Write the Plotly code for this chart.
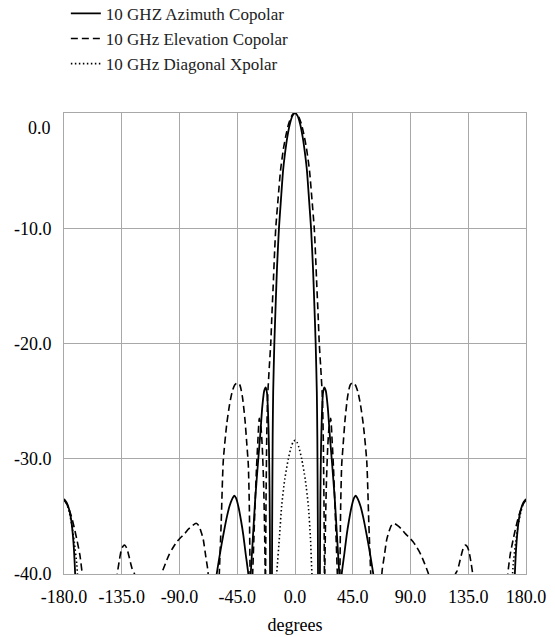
import plotly.graph_objects as go

# ---------------- data ----------------
series_names = ["10 GHZ Azimuth Copolar", "10 GHz Elevation Copolar", "10 GHz Diagonal Xpolar"]

az_deg = [-180, -178, -176, -174.4, -172.6, -171.3, -170.5, None,
          -63, -61, -59, -57, -55, -53, -51, -49, -47.3, -46, -44, -42, -40.3, -38.5, -36.4, -35.5, None,
          -34.5, -33, -31, -28.6, -27, -25.5, -24, -22.8, -21.8, -21, -20.3, -19.8, -19.5, -19.3, None,
          -18.1, -17.8, -17.4, -17, -16.1, -15, -14, -12.5, -11, -9.3, -8, -6, -4, -2, 0,
          2, 4, 6, 8, 9.3, 11, 12.5, 14, 15, 16.1, 17, 17.4, 17.8, 18.1, None,
          19.3, 19.5, 19.8, 20.3, 21, 21.8, 22.8, 24, 25.5, 27, 28.6, 31, 33, 34.5, None,
          35.5, 36.4, 38.5, 40.3, 42, 44, 46, 47.3, 49, 51, 53, 55, 57, 59, 61, 63, None,
          170.5, 171.3, 172.6, 174.4, 176, 178, 180]
az_db = [-33.5, -33.8, -34.4, -35.3, -37.3, -40.0, -43.0, None,
         -41.8, -40.0, -38.6, -37.3, -36.1, -35.0, -34.1, -33.5, -33.2, -33.4, -34.2, -35.4, -36.6, -38.2, -40.0, -41.5, None,
         -40.0, -37.2, -33.5, -30.0, -27.8, -25.5, -24.1, -23.8, -24.3, -26.0, -29.0, -33.0, -38.0, -44.0, None,
         -45.0, -36.0, -28.0, -24.2, -20.0, -16.4, -13.4, -10.0, -7.6, -5.0, -3.7, -2.1, -0.95, -0.25, 0.0,
         -0.25, -0.95, -2.1, -3.7, -5.0, -7.6, -10.0, -13.4, -16.4, -20.0, -24.2, -28.0, -36.0, -45.0, None,
         -44.0, -38.0, -33.0, -29.0, -26.0, -24.3, -23.8, -24.1, -25.5, -27.8, -30.0, -33.5, -37.2, -40.0, None,
         -41.5, -40.0, -38.2, -36.6, -35.4, -34.2, -33.4, -33.2, -33.5, -34.1, -35.0, -36.1, -37.3, -38.6, -40.0, -41.8, None,
         -43.0, -40.0, -37.3, -35.3, -34.4, -33.8, -33.5]

el_deg = [-180, -178, -176, -174, -172, -170, -167.7, -165.8, -164.8, None,
          -140, -138.5, -137, -135.5, -134, -132.5, -131, -129.5, -128, -126.5, -125, -124, None,
          -105, -104, -101, -98, -95, -92, -89.6, -86, -83, -80, -77, -75, -73, -71.5, -69.5, -68, -67, None,
          -60, -59, -57.5, -55.9, -53.2, -51, -49, -47, -45, -43, -41, -39, -37.5, -36.4, -35.6, -35, -34.6, None,
          -34, -33, -32, -31, -30, -29, -27.8, -26.5, -25.5, -24.5, -23.8, -23.2, -22.8, None,
          -23.2, -22.6, -22, -21.3, -20, -18.9, -18, -17, -16, -15, -13, -11.3, -9, -7, -5, -3, -1.5, 0,
          1.5, 3, 5, 7, 9, 11.3, 13, 15, 16, 17, 18, 18.9, 20, 21.3, 22, 22.6, 23.2, None,
          22.8, 23.2, 23.8, 24.5, 25.5, 26.5, 27.8, 29, 30, 31, 32, 33, 34, None,
          34.6, 35, 35.6, 36.4, 37.5, 39, 41, 43, 45, 47, 49, 51, 53.2, 55.9, 57.5, 59, 60, None,
          67, 68, 69.5, 71.5, 73, 75, 77, 80, 83, 86, 89.6, 92, 95, 98, 101, 104, 105, None,
          124, 125, 126.5, 128, 129.5, 131, 132.5, 134, 135.5, 137, 138.5, 140, None,
          164.8, 165.8, 167.7, 170, 172, 174, 176, 178, 180]
el_db = [-33.6, -33.9, -34.4, -35.1, -36.0, -37.0, -38.3, -40.0, -41.5, None,
         -41.5, -40.0, -38.9, -38.0, -37.6, -37.5, -37.8, -38.4, -39.1, -39.7, -40.0, -41.2, None,
         -40.6, -40.0, -39.1, -38.3, -37.7, -37.2, -36.9, -36.5, -36.1, -35.8, -35.6, -35.8, -36.4, -37.0, -38.5, -39.6, -41.0, None,
         -43.0, -40.0, -35.5, -30.2, -27.0, -25.3, -24.2, -23.6, -23.4, -23.6, -24.6, -26.6, -28.8, -30.5, -34.0, -40.0, -44.0, None,
         -43.0, -40.0, -36.8, -33.6, -30.8, -28.6, -26.5, -27.3, -29.0, -32.0, -35.5, -40.0, -44.0, None,
         -46.0, -34.0, -28.0, -24.6, -22.0, -20.0, -17.5, -15.0, -12.3, -10.0, -7.2, -5.0, -3.1, -1.9, -0.95, -0.35, -0.08, 0.0,
         -0.08, -0.35, -0.95, -1.9, -3.1, -5.0, -7.2, -10.0, -12.3, -15.0, -17.5, -20.0, -22.0, -24.6, -28.0, -34.0, -46.0, None,
         -44.0, -40.0, -35.5, -32.0, -29.0, -27.3, -26.5, -28.6, -30.8, -33.6, -36.8, -40.0, -43.0, None,
         -44.0, -40.0, -34.0, -30.5, -28.8, -26.6, -24.6, -23.6, -23.4, -23.6, -24.2, -25.3, -27.0, -30.2, -35.5, -40.0, -43.0, None,
         -41.0, -39.6, -38.5, -37.0, -36.4, -35.8, -35.6, -35.8, -36.1, -36.5, -36.9, -37.2, -37.7, -38.3, -39.1, -40.0, -40.6, None,
         -41.2, -40.0, -39.7, -39.1, -38.4, -37.8, -37.5, -37.6, -38.0, -38.9, -40.0, -41.5, None,
         -41.5, -40.0, -38.3, -37.0, -36.0, -35.1, -34.4, -33.9, -33.6]

xp_deg = [-180, -178, -176, -174, -172, -170, -169, None,
          -15.5, -14.3, -12, -10.4, -8, -5.2, -3, -1.5, 0, 1.5, 3, 5.2, 8, 10.4, 12, 13.2, 14.2, None,
          169, 170, 172, 174, 176, 178, 180]
xp_db = [-33.5, -33.9, -34.6, -35.7, -37.2, -39.2, -41.0, None,
         -41.5, -40.0, -36.6, -34.1, -31.8, -30.0, -29.0, -28.55, -28.4, -28.55, -29.0, -30.0, -31.8, -34.1, -36.8, -40.0, -42.0, None,
         -41.0, -39.2, -37.2, -35.7, -34.6, -33.9, -33.5]

x_tickvals = [-180, -135, -90, -45, 0, 45, 90, 135, 180]
x_ticktext = ["-180.0", "-135.0", "-90.0", "-45.0", "0.0", "45.0", "90.0", "135.0", "180.0"]
y_tickvals = [-40, -30, -20, -10]
y_ticktext = ["-40.0", "-30.0", "-20.0", "-10.0"]
y_top_label = "0.0"
x_title = "degrees"

# ---------------- figure ----------------
FONT = "Liberation Serif, Times New Roman, serif"
GRID = "#a8a8a8"

fig = go.Figure()
styles = [dict(dash="solid", width=1.8),
          dict(dash="7px,4px", width=1.6),
          dict(dash="1.5px,2.5px", width=1.6)]
for name, xs, ys, st in zip(series_names, [az_deg, el_deg, xp_deg], [az_db, el_db, xp_db], styles):
    fig.add_trace(go.Scatter(x=xs, y=ys, name=name, mode="lines", connectgaps=False,
                             line=dict(color="black", shape="spline", smoothing=0.6, **st)))

fig.update_layout(
    width=555, height=637,
    margin=dict(l=64, r=29, t=113, b=63, autoexpand=False),
    paper_bgcolor="white", plot_bgcolor="white",
    font=dict(family=FONT, size=18, color="black"),
    showlegend=True,
    legend=dict(x=0.004, y=1.254, xanchor="left", yanchor="top",
                font=dict(family=FONT, size=17, color="#222"),
                bgcolor="rgba(0,0,0,0)", traceorder="normal"),
    xaxis=dict(range=[-180, 180], tickvals=x_tickvals, ticktext=x_ticktext,
               showgrid=True, gridcolor=GRID, gridwidth=1, zeroline=False,
               showline=True, linecolor=GRID, linewidth=1, mirror=True,
               ticks="outside", ticklen=6, tickcolor="rgba(0,0,0,0)",
               tickfont=dict(family=FONT, size=18, color="black"),
               title=dict(text=x_title, font=dict(family=FONT, size=18, color="black"), standoff=12)),
    yaxis=dict(range=[-40, 0], tickvals=y_tickvals, ticktext=y_ticktext,
               showgrid=True, gridcolor=GRID, gridwidth=1, zeroline=False,
               showline=True, linecolor=GRID, linewidth=1, mirror=True,
               ticks="outside", ticklen=8, tickcolor="rgba(0,0,0,0)",
               tickfont=dict(family=FONT, size=18, color="black")),
)
fig.add_annotation(x=0, xref="paper", y=0, yref="y", text=y_top_label, showarrow=False,
                   xanchor="right", yanchor="middle", xshift=-11, yshift=-15,
                   font=dict(family=FONT, size=18, color="black"))

fig.write_html("out.html", config={"displayModeBar": False},
               post_script="document.body.style.margin='0px';")
